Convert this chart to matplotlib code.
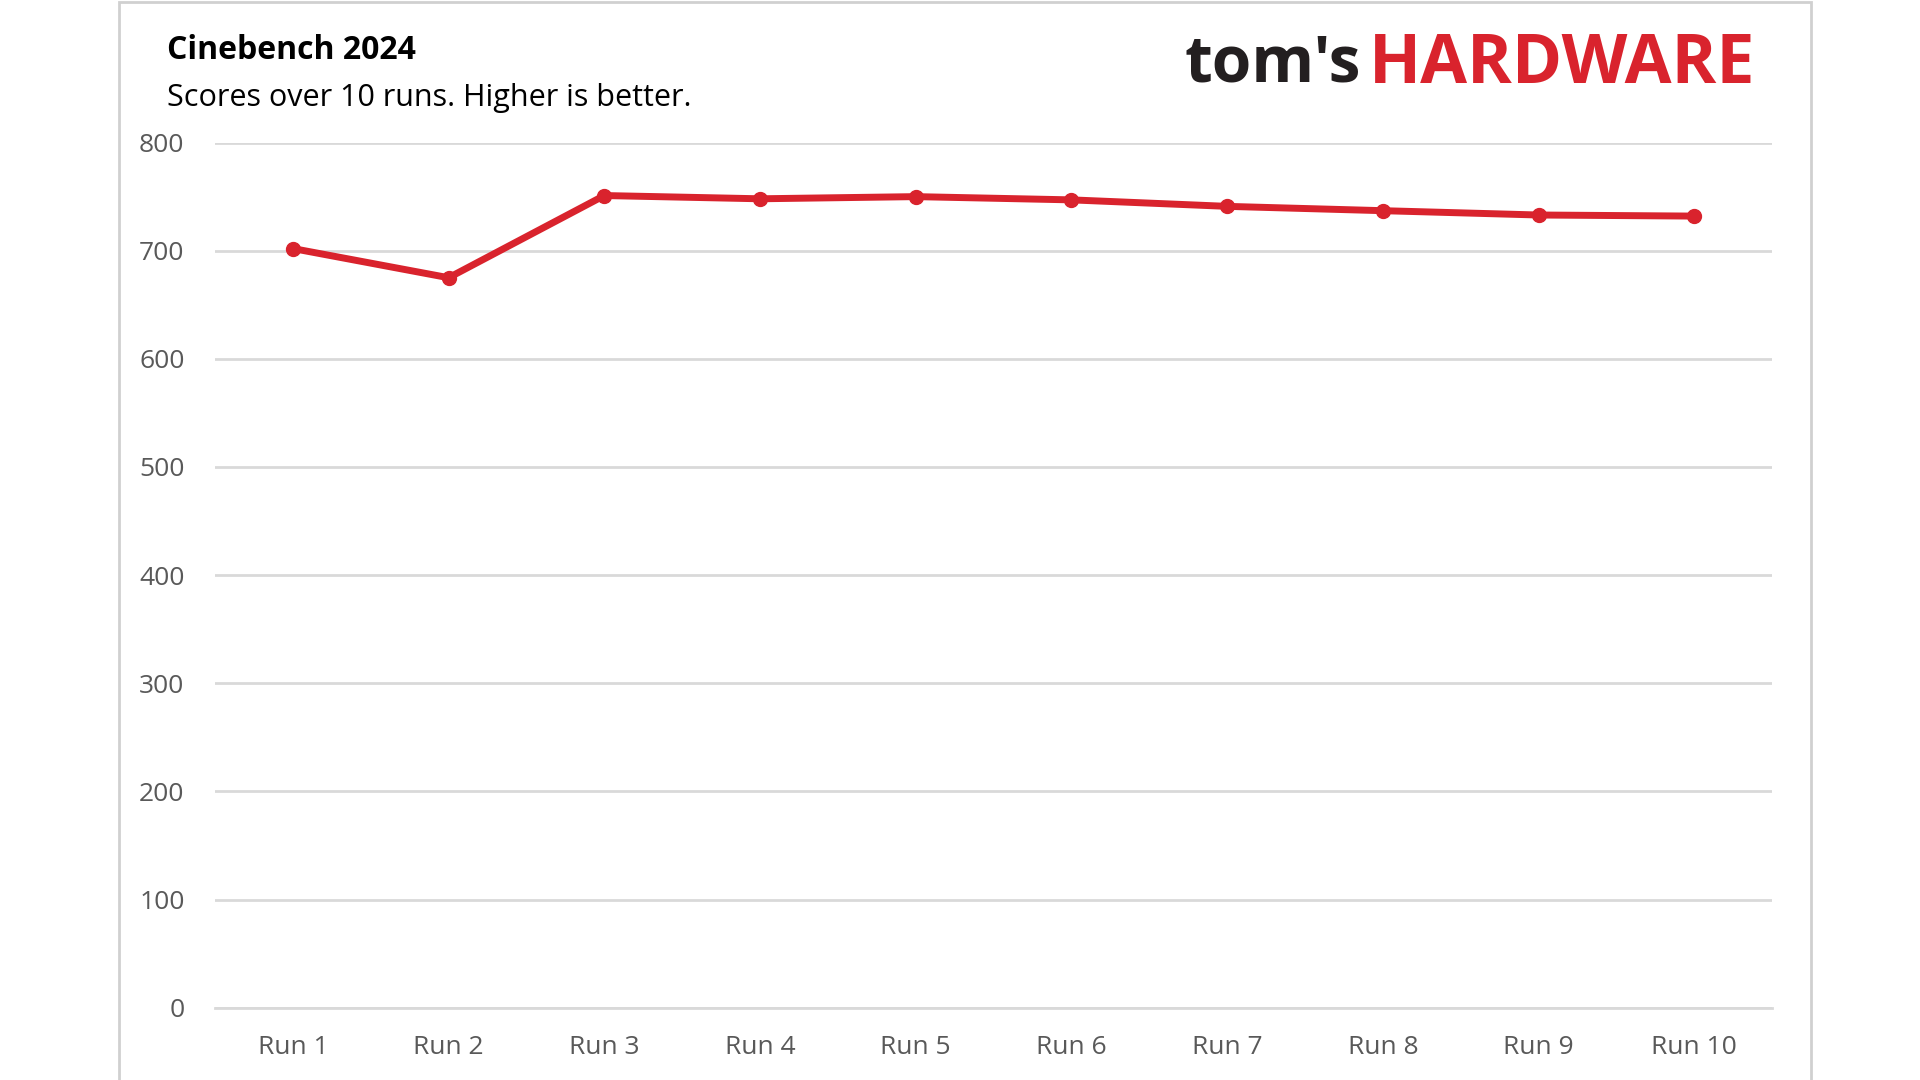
import matplotlib
matplotlib.use("Agg")
import matplotlib.pyplot as plt
from matplotlib.patches import Rectangle

runs = [f"Run {i}" for i in range(1, 11)]
scores = [702, 675, 751, 748, 750, 747, 741, 737, 733, 732]
yticks = list(range(0, 801, 100))

plt.rcParams['font.family'] = ['Open Sans', 'DejaVu Sans']
red = '#d9232d'

fig = plt.figure(figsize=(19.2, 10.8), dpi=100)
fig.patches.append(Rectangle((0.062, -0.01), 0.881, 1.008, transform=fig.transFigure,
                             fill=False, edgecolor='#d0d0d0', linewidth=2))
ax = fig.add_axes([0.112, 0.067, 0.811, 0.801])

ax.plot(runs, scores, color=red, linewidth=5, marker='o', markersize=10, zorder=3)
ax.set_ylim(0, 800)
ax.set_xlim(-0.5, 9.5)
ax.set_yticks(yticks)
ax.grid(axis='y', color='#d9d9d9', linewidth=2)
for s in ax.spines.values():
    s.set_visible(False)
ax.spines['bottom'].set_visible(True)
ax.spines['bottom'].set_color('#d9d9d9')
ax.spines['bottom'].set_linewidth(2)
ax.tick_params(length=0, labelsize=19, labelcolor='#595959')
ax.tick_params(axis='x', pad=20)
ax.tick_params(axis='y', pad=22)

fig.text(0.087, 0.953, "Cinebench 2024", fontsize=23, fontweight='bold', va='center')
fig.text(0.087, 0.909, "Scores over 10 runs. Higher is better.", fontsize=22, va='center')
fig.text(0.709, 0.94, "tom's", fontsize=46, fontweight='bold', color='#231f20',
         ha='right', va='center')
fig.text(0.713, 0.94, "HARDWARE", fontsize=49, fontweight='bold', color=red,
         ha='left', va='center')

fig.savefig("out.png", dpi=100, facecolor='white')
